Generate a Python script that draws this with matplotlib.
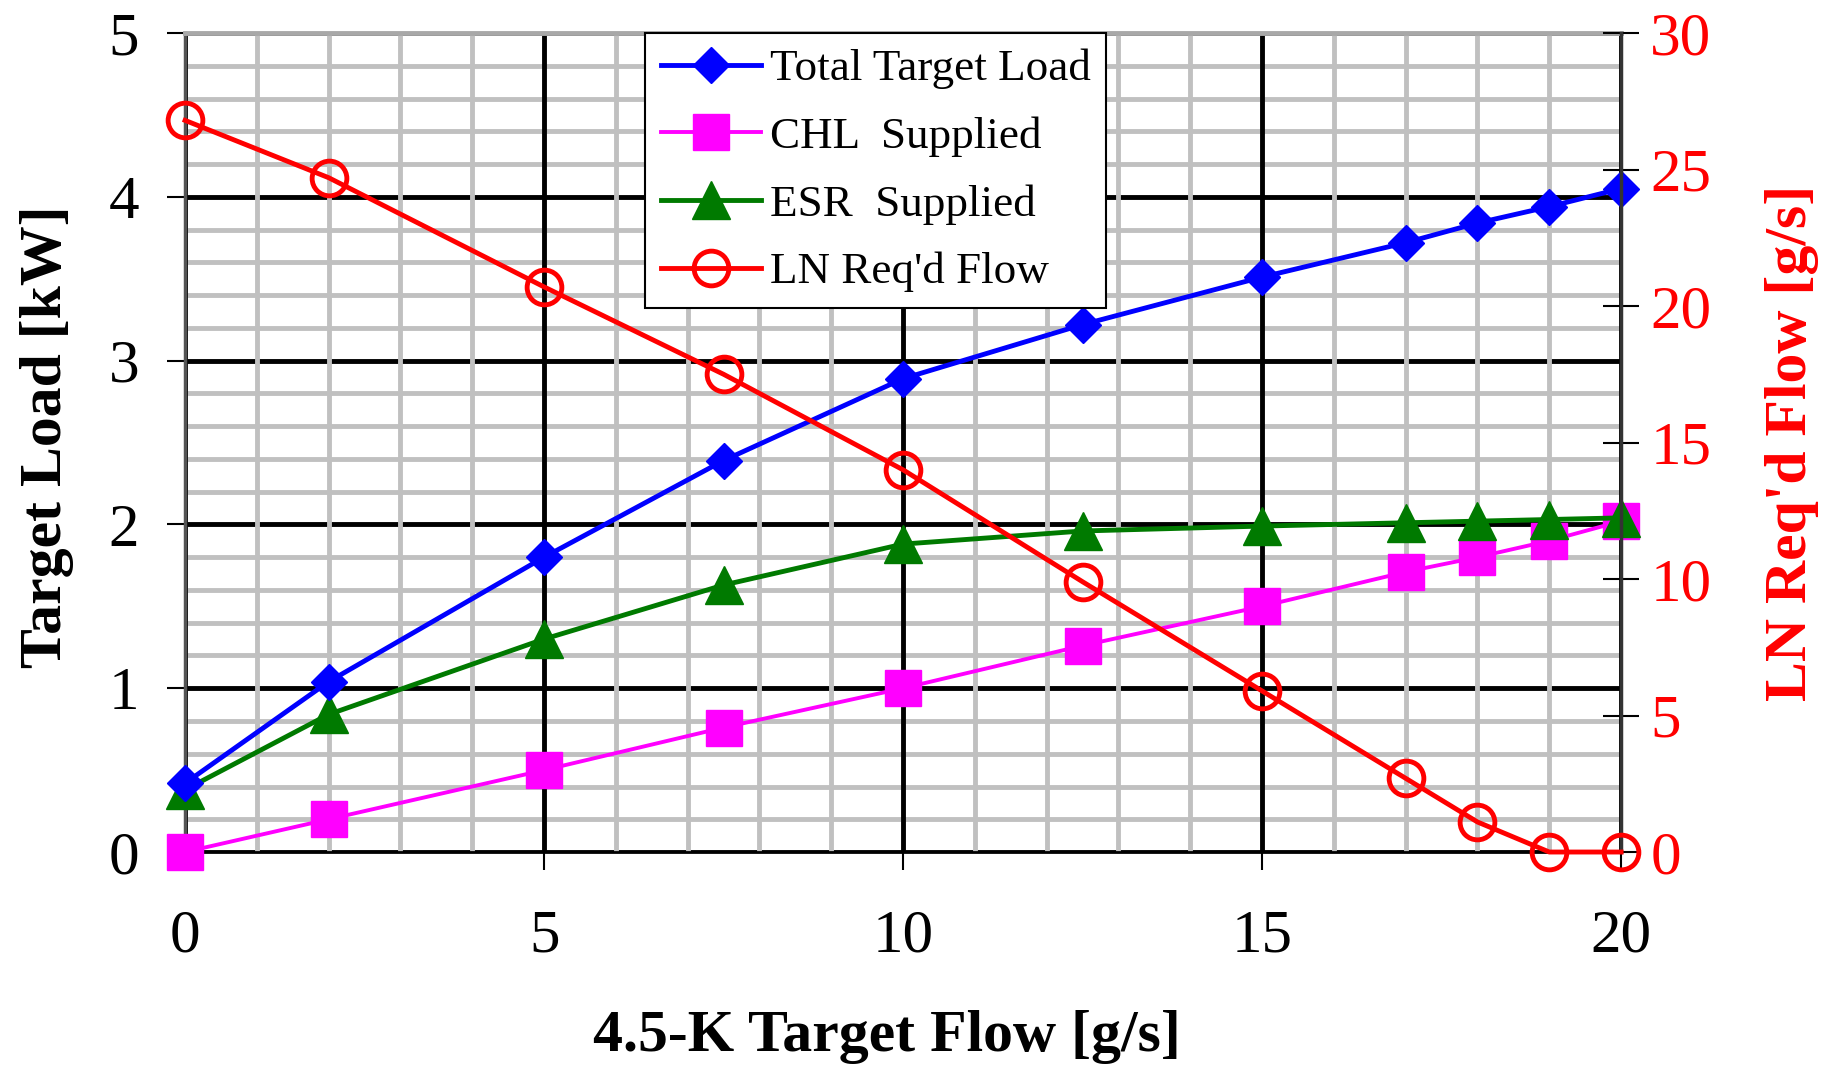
import matplotlib.pyplot as plt
from matplotlib.ticker import MultipleLocator

plt.rcParams["font.family"] = "Liberation Serif"

# 4.5-K target flow [g/s]
target_flow = [0, 2, 5, 7.5, 10, 12.5, 15, 17, 18, 19, 20]
# loads [kW]
total_load = [0.42, 1.04, 1.80, 2.39, 2.89, 3.22, 3.51, 3.72, 3.84, 3.94, 4.05]
chl_supplied = [0.0, 0.20, 0.50, 0.76, 1.0, 1.26, 1.50, 1.71, 1.80, 1.90, 2.02]
esr_supplied = [0.38, 0.84, 1.30, 1.63, 1.88, 1.96, 1.99, 2.01, 2.02, 2.03, 2.04]
# liquid nitrogen flow [g/s]
ln_flow = [26.8, 24.7, 20.7, 17.5, 14.0, 9.9, 5.9, 2.7, 1.1, 0.0, 0.0]

fig = plt.figure(figsize=(18.27, 10.72), dpi=100)
ax = fig.add_axes([0.1013, 0.2052, 0.786, 0.764])
ax2 = ax.twinx()

# ----- left axis: loads -----
l1, = ax.plot(target_flow, total_load, color="#0000FF", lw=3.5, marker="D", ms=18,
              label="Total Target Load", clip_on=False, zorder=4)
l2, = ax.plot(target_flow, chl_supplied, color="#FF00FF", lw=2.8, marker="s", ms=26,
              label="CHL  Supplied", clip_on=False, zorder=3)
l3, = ax.plot(target_flow, esr_supplied, color="#007A00", lw=3.5, marker="^", ms=27,
              label="ESR  Supplied", clip_on=False, zorder=3)

ax.set_xlim(0, 20)
ax.set_ylim(0, 5)
ax.xaxis.set_major_locator(MultipleLocator(5))
ax.xaxis.set_minor_locator(MultipleLocator(1))
ax.yaxis.set_major_locator(MultipleLocator(1))
ax.yaxis.set_minor_locator(MultipleLocator(0.2))

# grid: horizontal lines first, vertical lines over them
ax.set_axisbelow(True)
ax.yaxis.set_zorder(0.5)
ax.xaxis.set_zorder(0.6)
ax.grid(which="minor", color="#c0c0c0", lw=3.5)
ax.grid(which="major", color="black", lw=3.5)
ax.tick_params(which="minor", length=0)
ax.tick_params(which="major", direction="out", length=13, width=1.5, labelsize=44)
ax.tick_params(axis="x", pad=28)
ax.tick_params(axis="y", pad=20)

ax.spines["top"].set_color("#a8a8a8")
ax.spines["top"].set_linewidth(3.5)
ax.spines["left"].set_color("#555555")
ax.spines["left"].set_linewidth(2.5)
ax.spines["bottom"].set_linewidth(2)
ax.spines["right"].set_visible(False)

ax.set_xlabel("4.5-K Target Flow [g/s]", fontsize=43, fontweight="bold")
ax.xaxis.label.set_va("center")
ax.xaxis.set_label_coords(0.489, -0.226)
ax.set_ylabel("Target Load [kW]", fontsize=43, fontweight="bold")
ax.yaxis.label.set_va("center")
ax.yaxis.set_label_coords(-0.096, 0.507)

# ----- right axis: LN flow -----
l4, = ax2.plot(target_flow, ln_flow, color="#FF0000", lw=3.5, marker="o", ms=25,
               mfc="none", mew=3.5, label="LN Req'd Flow", clip_on=False, zorder=3)
ax2.set_ylim(0, 30)
ax2.yaxis.set_major_locator(MultipleLocator(5))
ax2.tick_params(axis="y", direction="inout", length=26, width=1.5, labelsize=44,
                labelcolor="red", pad=8)
ax2.spines["right"].set_color("#333333")
ax2.spines["right"].set_linewidth(2.5)
for s in ("top", "left", "bottom"):
    ax2.spines[s].set_visible(False)
ax2.set_ylabel("LN Req'd Flow [g/s]", fontsize=43, fontweight="bold", color="red")
ax2.yaxis.label.set_va("center")
ax2.yaxis.set_label_coords(1.119, 0.50)

leg = ax2.legend(handles=[l1, l2, l3, l4], loc="upper left", bbox_to_anchor=(0.3206, 1.0),
                 borderaxespad=0, fontsize=32.5, fancybox=False, framealpha=1,
                 edgecolor="black", handlelength=2.2, handletextpad=0.2,
                 borderpad=0.35, labelspacing=0.6)
leg.get_frame().set_linewidth(1.5)
leg.set_zorder(10)

fig.savefig("out.png", dpi=100)
